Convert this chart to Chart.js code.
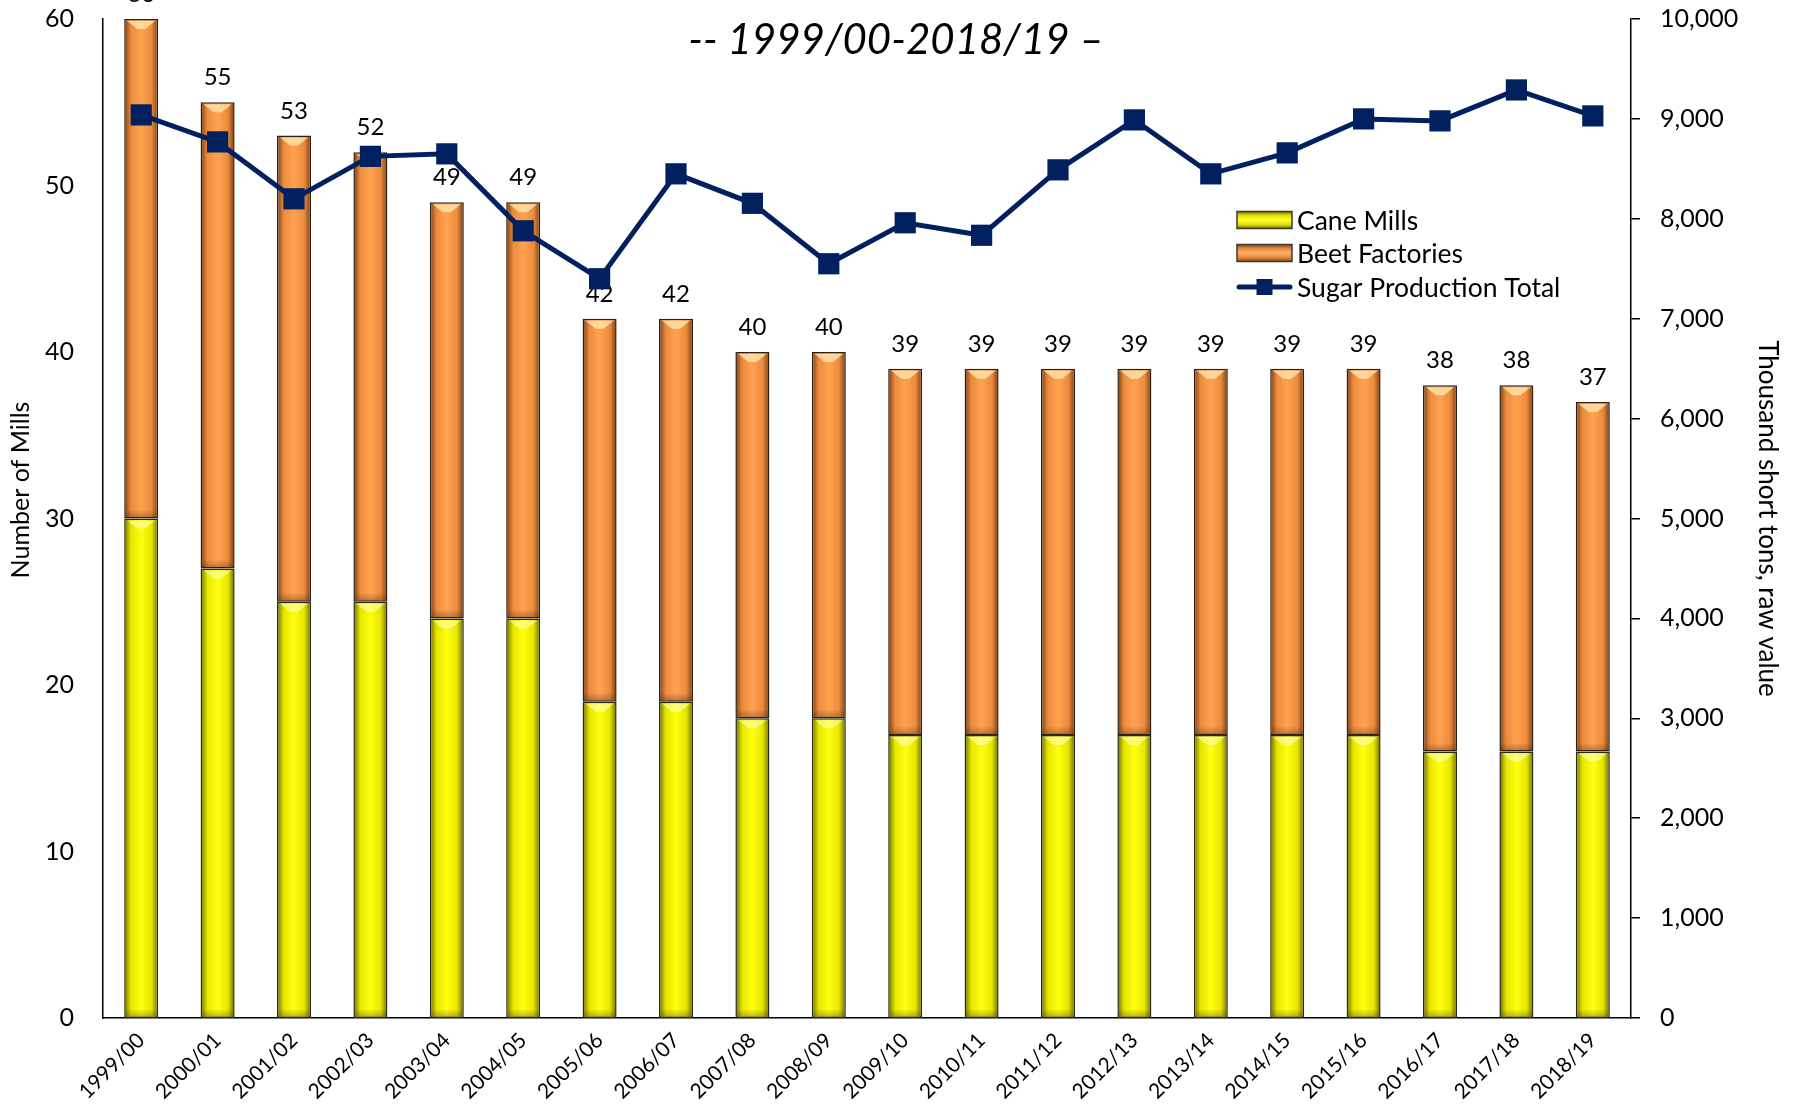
<!DOCTYPE html>
<html>
<head>
<meta charset="utf-8">
<title>Sugar mills and production</title>
<script src="https://cdn.jsdelivr.net/npm/chart.js@4.4.1/dist/chart.umd.min.js"></script>
<style>
  html, body { margin: 0; padding: 0; background: #ffffff; }
  #wrap { width: 1794px; height: 1110px; position: relative; }
</style>
</head>
<body>
<div id="wrap"><canvas id="chart"></canvas></div>
<script>
// Marketing years
const seasons = ['1999/00','2000/01','2001/02','2002/03','2003/04','2004/05','2005/06','2006/07','2007/08','2008/09',
                 '2009/10','2010/11','2011/12','2012/13','2013/14','2014/15','2015/16','2016/17','2017/18','2018/19'];
// Number of operating cane mills
const caneMills = [30,27,25,25,24,24,19,19,18,18,17,17,17,17,17,17,17,16,16,16];
// Number of operating beet factories
const beetFactories = [30,28,28,27,25,25,23,23,22,22,22,22,22,22,22,22,22,22,22,21];
// Total sugar production, thousand short tons raw value
const sugarProduction = [9040,8770,8200,8625,8650,7880,7400,8450,8155,7550,7960,7835,8490,8990,8450,8660,9000,8980,9290,9030];

const subtitleText = '-- 1999/00-2018/19 \u2013';
const leftTitle = 'Number of Mills';
const rightTitle = 'Thousand short tons, raw value';
const legendNames = ['Cane Mills', 'Beet Factories', 'Sugar Production Total'];

const NAVY = '#002060';
const FONT = 'Lato, "Open Sans", sans-serif';
const BAR_PCT = 0.445;

Chart.defaults.font.family = FONT;
Chart.defaults.color = '#000000';

// Horizontal shading across each bar for a rounded, bevelled look
function barShade(edge, mid, bright) {
  return (c) => {
    const chart = c.chart;
    const xs = chart.scales && chart.scales.x;
    if (!chart.chartArea || !xs || c.dataIndex === undefined) return bright;
    const x = xs.getPixelForValue(c.dataIndex);
    const w = (xs.width / seasons.length) * BAR_PCT;
    const g = chart.ctx.createLinearGradient(x - w / 2, 0, x + w / 2, 0);
    g.addColorStop(0, edge);
    g.addColorStop(0.2, mid);
    g.addColorStop(0.5, bright);
    g.addColorStop(0.8, mid);
    g.addColorStop(1, edge);
    return g;
  };
}

// Scales keep their exact size; label overhang may spill past the plot edges
function noOverhang(scale) {
  scale.paddingTop = 0;
  scale.paddingBottom = 0;
  scale.paddingLeft = 0;
  scale.paddingRight = 0;
}

// Bevel highlights, total labels, subtitle, axis titles and legend
const decorations = {
  id: 'decorations',
  afterDatasetDraw(chart, args) {
    const meta = args.meta;
    if (meta.type !== 'bar') return;
    const ctx = chart.ctx;
    ctx.save();
    meta.data.forEach((bar, i) => {
      const p = bar.getProps(['x', 'y', 'base', 'width'], true);
      const l = p.x - p.width / 2, r = p.x + p.width / 2;
      const top = Math.min(p.y, p.base), bot = Math.max(p.y, p.base);
      // lighter wedge at the top of each segment
      ctx.fillStyle = args.index === 0 ? 'rgba(255,255,200,0.55)' : 'rgba(255,225,165,0.85)';
      ctx.beginPath();
      ctx.moveTo(l + 3, top + 2);
      ctx.lineTo(r - 3, top + 2);
      ctx.lineTo(p.x + 4, top + 10);
      ctx.lineTo(p.x - 4, top + 10);
      ctx.closePath();
      ctx.fill();
      // darker band at the bottom of each segment
      const g = ctx.createLinearGradient(0, bot - 9, 0, bot);
      g.addColorStop(0, 'rgba(60,30,0,0)');
      g.addColorStop(1, 'rgba(60,30,0,0.35)');
      ctx.fillStyle = g;
      ctx.fillRect(l + 1.5, bot - 9, p.width - 3, 8);
      // total mill count above the stacked bar
      if (args.index === 1) {
        const total = caneMills[i] + beetFactories[i];
        ctx.fillStyle = '#000000';
        ctx.font = '24px ' + FONT;
        ctx.textAlign = 'center';
        ctx.textBaseline = 'alphabetic';
        ctx.fillText(String(total), p.x, top - 17);
      }
    });
    ctx.restore();
  },
  afterDraw(chart) {
    const ctx = chart.ctx;
    const area = chart.chartArea;
    ctx.save();
    // subtitle
    ctx.fillStyle = '#000000';
    ctx.font = 'italic 42px ' + FONT;
    ctx.textAlign = 'center';
    ctx.textBaseline = 'middle';
    ctx.fillText(subtitleText, 896, 40);

    // axis titles
    ctx.font = '25px ' + FONT;
    ctx.save();
    ctx.translate(21, 490);
    ctx.rotate(-Math.PI / 2);
    ctx.fillText(leftTitle, 0, 0);
    ctx.restore();
    ctx.font = '26px ' + FONT;
    ctx.save();
    ctx.translate(1767, (area.top + area.bottom) / 2);
    ctx.rotate(Math.PI / 2);
    ctx.fillText(rightTitle, 0, 0);
    ctx.restore();

    // legend
    const sx = 1237, sw = 55, sh = 17;
    const rows = [220, 253, 287];
    const swatches = [['#7a7a00', '#e4e400', '#ffff30'], ['#8a4a18', '#e88a3c', '#ffb070']];
    swatches.forEach((c, k) => {
      const y0 = rows[k] - sh / 2;
      const g = ctx.createLinearGradient(0, y0, 0, y0 + sh);
      g.addColorStop(0, c[0]);
      g.addColorStop(0.25, c[1]);
      g.addColorStop(0.5, c[2]);
      g.addColorStop(0.75, c[1]);
      g.addColorStop(1, c[0]);
      ctx.fillStyle = g;
      ctx.fillRect(sx, y0, sw, sh);
      ctx.strokeStyle = '#3a3a3a';
      ctx.lineWidth = 1.5;
      ctx.strokeRect(sx, y0, sw, sh);
    });
    ctx.strokeStyle = NAVY;
    ctx.lineWidth = 5;
    ctx.lineCap = 'round';
    ctx.beginPath();
    ctx.moveTo(sx + 2, rows[2]);
    ctx.lineTo(sx + sw - 2, rows[2]);
    ctx.stroke();
    ctx.fillStyle = NAVY;
    ctx.fillRect(sx + sw / 2 - 8, rows[2] - 8, 16, 16);

    ctx.fillStyle = '#000000';
    ctx.font = '26.5px ' + FONT;
    ctx.textAlign = 'left';
    ctx.textBaseline = 'middle';
    legendNames.forEach((name, k) => ctx.fillText(name, 1297, rows[k] + 1));
    ctx.restore();
  }
};

new Chart(document.getElementById('chart'), {
  data: {
    labels: seasons,
    datasets: [
      {
        type: 'bar',
        label: legendNames[0],
        data: caneMills,
        yAxisID: 'y',
        stack: 'mills',
        order: 2,
        backgroundColor: barShade('#6e6e00', '#e6e600', '#ffff10'),
        borderColor: '#2a2a1a',
        borderWidth: 1.5,
        borderSkipped: false,
        barPercentage: BAR_PCT,
        categoryPercentage: 1
      },
      {
        type: 'bar',
        label: legendNames[1],
        data: beetFactories,
        yAxisID: 'y',
        stack: 'mills',
        order: 2,
        backgroundColor: barShade('#7a3e12', '#ec8c3e', '#ffa250'),
        borderColor: '#2e2014',
        borderWidth: 1.5,
        borderSkipped: false,
        barPercentage: BAR_PCT,
        categoryPercentage: 1
      },
      {
        type: 'line',
        label: legendNames[2],
        data: sugarProduction,
        yAxisID: 'y1',
        order: 0,
        borderColor: NAVY,
        backgroundColor: NAVY,
        borderWidth: 5,
        tension: 0,
        pointStyle: 'rect',
        pointRadius: 15,
        pointHoverRadius: 15,
        pointBorderWidth: 0,
        pointBackgroundColor: NAVY
      }
    ]
  },
  options: {
    responsive: true,
    maintainAspectRatio: false,
    devicePixelRatio: 1,
    animation: false,
    layout: { padding: { top: 19, left: 0, right: 0, bottom: 0 } },
    plugins: {
      legend: { display: false },
      tooltip: { enabled: false },
      title: { display: false }
    },
    scales: {
      x: {
        stacked: true,
        grid: { display: false, drawTicks: false },
        border: { display: true, color: '#000000', width: 1.5 },
        ticks: {
          font: { size: 21 },
          color: '#000000',
          maxRotation: 45,
          minRotation: 45,
          autoSkip: false,
          padding: 10
        },
        afterFit(scale) { scale.height = 92; noOverhang(scale); }
      },
      y: {
        position: 'left',
        stacked: true,
        min: 0,
        max: 60,
        grid: { display: false, drawTicks: false },
        border: { display: true, color: '#000000', width: 1.5 },
        ticks: { stepSize: 10, font: { size: 25 }, color: '#000000', padding: 29 },
        afterFit(scale) { scale.width = 103; noOverhang(scale); }
      },
      y1: {
        position: 'right',
        min: 0,
        max: 10000,
        grid: { display: true, drawOnChartArea: false, drawTicks: true, tickLength: 9, color: '#000000', lineWidth: 1.5 },
        border: { display: true, color: '#000000', width: 1.5 },
        ticks: {
          stepSize: 1000,
          font: { size: 25 },
          color: '#000000',
          padding: 20,
          callback: (v) => Number(v).toLocaleString('en-US')
        },
        afterFit(scale) { scale.width = 163; noOverhang(scale); }
      }
    }
  },
  plugins: [decorations]
});
</script>
</body>
</html>
